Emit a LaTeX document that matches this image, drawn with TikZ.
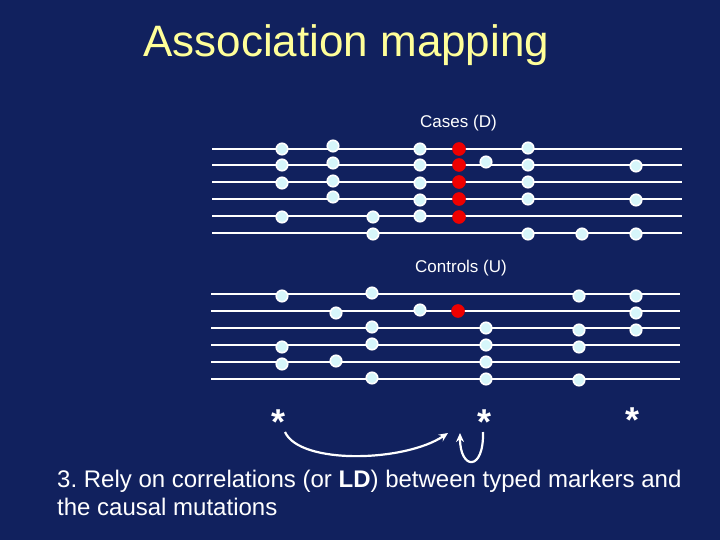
\documentclass[tikz,border=0pt]{standalone}
\usepackage{fontspec}
\setmainfont{Liberation Sans}
\usetikzlibrary{arrows.meta}
\frenchspacing
\definecolor{bg}{RGB}{17,33,94}
\definecolor{titley}{RGB}{255,255,153}
\definecolor{dotfill}{RGB}{214,246,250}
\definecolor{dotred}{RGB}{238,0,0}
\tikzset{
  hapline/.style={draw=white, line width=1.8pt},
  wdot/.style={circle, fill=dotfill, draw=white, line width=1.6pt, minimum size=11.5pt, inner sep=0pt},
  rdot/.style={circle, fill=dotred, draw=dotred, line width=0.5pt, minimum size=13pt, inner sep=0pt},
  lbl/.style={text=white, font=\fontsize{17}{20}\selectfont, anchor=base west, inner sep=0pt},
  star/.style={text=white, font=\fontsize{36}{40}\selectfont\bfseries, anchor=base, inner sep=0pt},
  body/.style={text=white, font=\fontsize{24}{28}\selectfont, anchor=base west, inner sep=0pt},
  arr/.style={draw=white, line width=2.2pt, -{Stealth[length=9pt,width=8pt]}}
}
\begin{document}
\begin{tikzpicture}[x=1pt,y=-1pt]
\fill[bg] (0,0) rectangle (720,540);
\useasboundingbox (0,0) rectangle (720,540);
% title
\node[text=titley, font=\fontsize{44}{50}\selectfont, anchor=base west, inner sep=0pt] (title) at (143,57) {Association mapping};
\node[lbl] (cases) at (420,128) {Cases (D)};
\node[lbl] (controls) at (415,272) {Controls (U)};
% top lines
\foreach \yy in {149,165,182,199,216,233} {
  \draw[hapline] (212,\yy) -- (682,\yy);
}
% bottom lines
\foreach \yy in {294,311,328,345,362,379} {
  \draw[hapline] (211,\yy) -- (680,\yy);
}
% top white dots
\foreach \xx/\yy [count=\i] in {282/149,333/146,420/149,528/148,
  282/165,333/163,420/165,486/162,528/165,636/166,
  282/183,333/181,420/183,528/182,
  333/197,420/200,528/199,636/200,
  282/217,373/217,420/216,
  373/234,528/234,582/234,636/234} {
  \node[wdot] (tw\i) at (\xx,\yy) {};
}
% top red dots
\foreach \yy [count=\i] in {149,165,182,199,217} {
  \node[rdot] (tr\i) at (459,\yy) {};
}
% bottom white dots
\foreach \xx/\yy [count=\i] in {282/296,372/293,579/296,636/296,
  336/313,420/310,636/313,
  372/327,486/328,579/330,636/330,
  282/347,372/344,486/345,579/347,
  282/364,336/361,486/362,
  372/378,486/379,579/380} {
  \node[wdot] (bw\i) at (\xx,\yy) {};
}
\node[rdot] (br1) at (458,311) {};
% asterisks
\node[star] (s1) at (279,434) {*};
\node[star] (s2) at (484,434) {*};
\node[star] (s3) at (632,432) {*};
\coordinate (a1s) at (285,432);
\coordinate (a1e) at (448,433);
\coordinate (a2s) at (483,432);
\coordinate (a2e) at (460,433);
\draw[arr] (a1s) .. controls (300,465) and (405,462) .. (a1e);
\draw[arr] (a2s) .. controls (484,472) and (460,470) .. (a2e);
% body text
\node[body] (t1) at (57,487) {3. Rely on correlations (or \textbf{LD}) between typed markers and};
\node[body] (t2) at (57,515) {the causal mutations};
\end{tikzpicture}
\end{document}
